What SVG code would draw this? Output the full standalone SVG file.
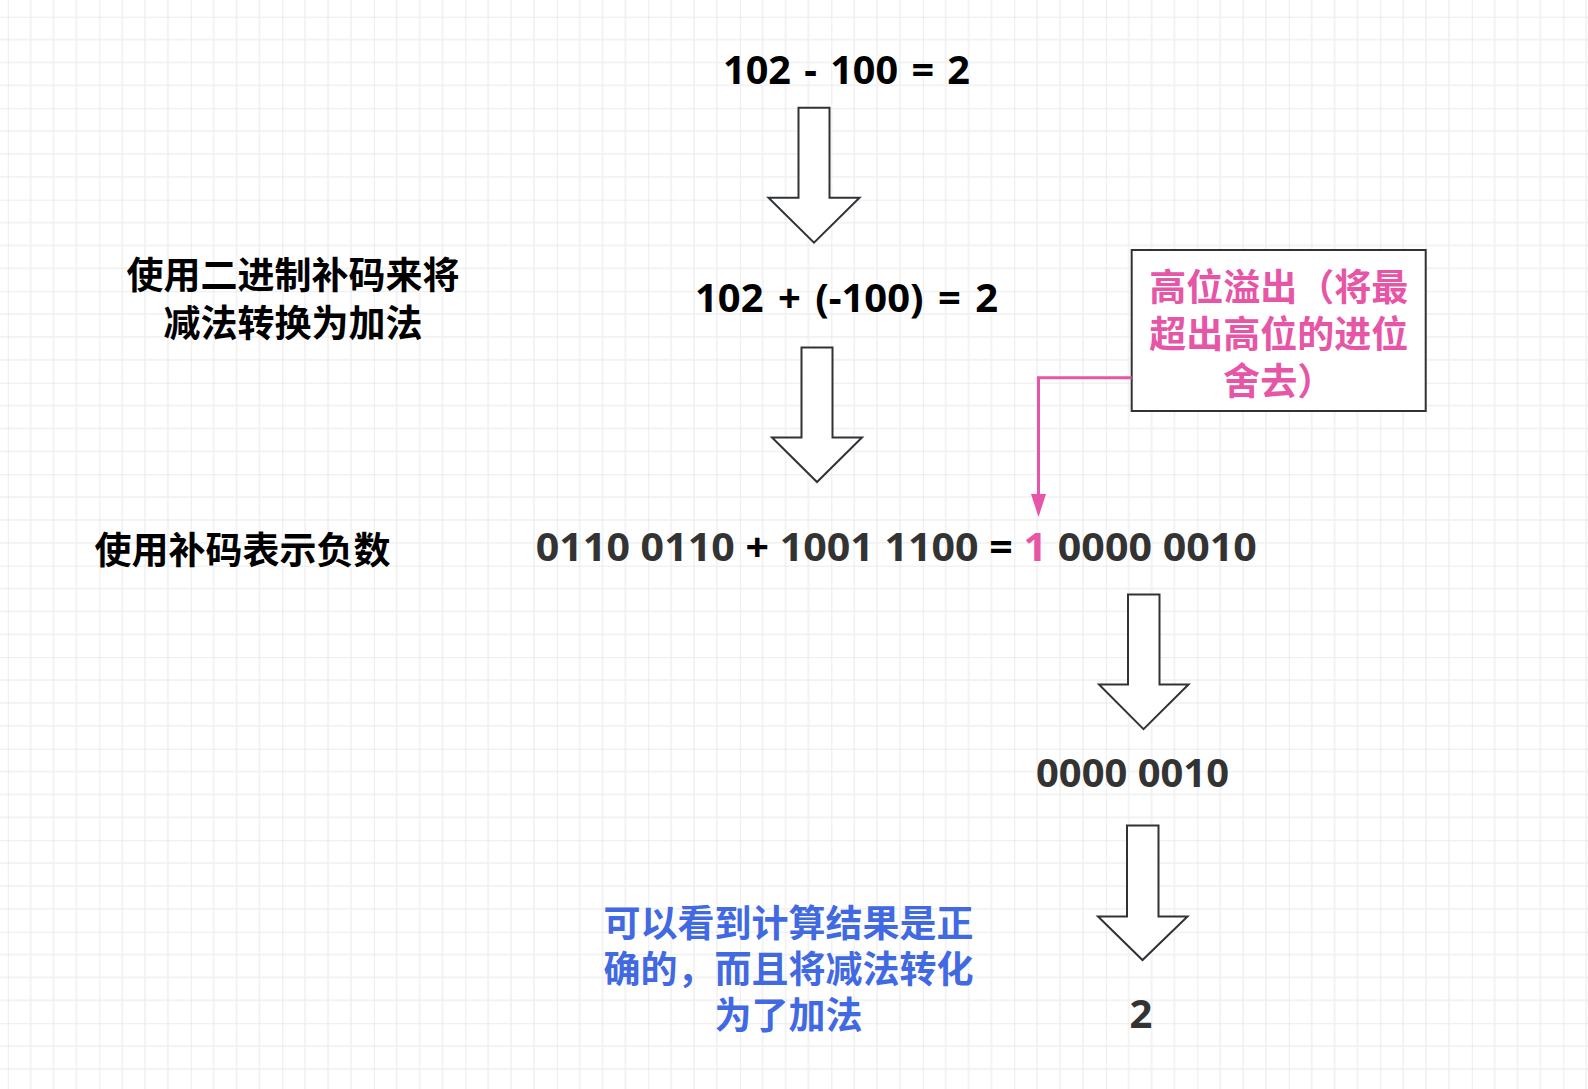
<svg xmlns="http://www.w3.org/2000/svg" width="1588" height="1089" viewBox="0 0 1588 1089">
<style>
.cjk{font-family:"Noto Sans CJK SC","Microsoft YaHei",sans-serif;font-weight:bold;font-size:37px;text-anchor:middle}
.num{font-family:"Noto Sans","Open Sans",sans-serif;font-weight:bold;font-size:40px}
.arrow{fill:#ffffff;stroke:#2f3337;stroke-width:2;stroke-linejoin:miter}
.pink{fill:#e755a6}
.blue{fill:#4169e1}
.dark{fill:#333333}
</style>
<defs>
<pattern id="grid" patternUnits="userSpaceOnUse" x="7.8" y="16.7" width="91.5" height="91.5">
<g stroke="#f0f0f0" stroke-width="1.5" fill="none">
<path d="M22.875 0V91.5M45.75 0V91.5M68.625 0V91.5M0 22.875H91.5M0 45.75H91.5M0 68.625H91.5"/>
</g>
<g stroke="#e6e6e6" stroke-width="1.5" fill="none">
<path d="M0 0V91.5M0 0H91.5"/>
</g>
</pattern>
</defs>
<rect width="1588" height="1089" fill="#ffffff"/>
<rect width="1588" height="1089" fill="url(#grid)"/>

<g id="eq1"><text class="num" x="723" y="83.5" textLength="247" lengthAdjust="spacingAndGlyphs" word-spacing="3" fill="#000">102 - 100 = 2</text></g>
<g id="arrow1"><polygon class="arrow" points="798.5,107.7 829.5,107.7 829.5,197.7 859.5,197.7 814,242.7 768.5,197.7 798.5,197.7"/></g>

<g id="label1"><text class="cjk" fill="#000"><tspan x="293" y="289">使用二进制补码来将</tspan><tspan x="293" y="337">减法转换为加法</tspan></text></g>
<g id="eq2"><text class="num" x="695" y="311.7" textLength="303" lengthAdjust="spacingAndGlyphs" word-spacing="4" fill="#000">102 + (-100) = 2</text></g>
<g id="arrow2"><polygon class="arrow" points="801.5,347.5 832.5,347.5 832.5,437.5 862,437.5 817,482 772,437.5 801.5,437.5"/></g>

<g id="note"><rect x="1131.7" y="250" width="294" height="161" fill="#ffffff" stroke="#2f3337" stroke-width="2"/>
<text class="cjk pink"><tspan x="1278.7" y="300.5">高位溢出（将最</tspan><tspan x="1278.7" y="347.5">超出高位的进位</tspan><tspan x="1278.7" y="394.5">舍去）</tspan></text></g>

<g id="label2"><text class="cjk" x="242.5" y="563.5" fill="#000">使用补码表示负数</text></g>
<g id="eq3"><text class="num" x="535.8" y="561" textLength="721" lengthAdjust="spacingAndGlyphs"><tspan class="dark">0110 0110 </tspan><tspan fill="#000">+</tspan><tspan class="dark"> 1001 1100 </tspan><tspan fill="#000">=</tspan><tspan class="pink"> 1</tspan><tspan class="dark"> 0000 0010</tspan></text></g>
<g id="arrow3"><polygon class="arrow" points="1128,594.5 1159.5,594.5 1159.5,684.5 1188.5,684.5 1143.5,729.2 1099,684.5 1128,684.5"/></g>

<g id="res1"><text class="num dark" x="1036" y="786.7" textLength="193" lengthAdjust="spacingAndGlyphs">0000 0010</text></g>
<g id="arrow4"><polygon class="arrow" points="1127,825.5 1158.5,825.5 1158.5,916.5 1187.5,916.5 1142.5,960 1098,916.5 1127,916.5"/></g>

<g id="res2"><text class="num dark" x="1141" y="1028" text-anchor="middle">2</text></g>
<g id="label3"><text class="cjk blue"><tspan x="788.5" y="937">可以看到计算结果是正</tspan><tspan x="788.5" y="983">确的，而且将减法转化</tspan><tspan x="788.5" y="1029">为了加法</tspan></text></g>

<g id="connectors">
<path d="M1131.7 377.7H1038.5V496" fill="none" stroke="#e755a6" stroke-width="3"/>
<polygon points="1031,494 1046,494 1038.5,517" fill="#e755a6"/>
</g>
</svg>
